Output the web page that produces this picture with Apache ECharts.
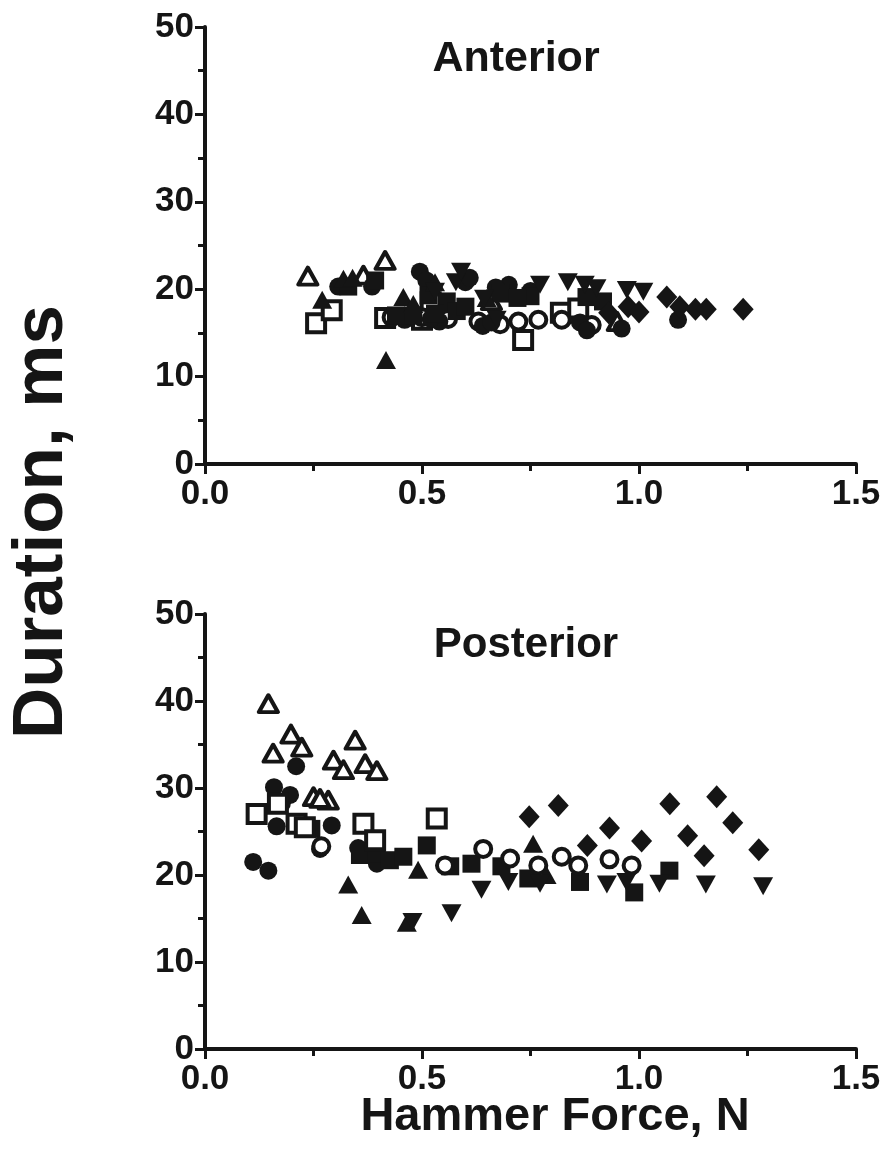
<!DOCTYPE html>
<html>
<head>
<meta charset="utf-8">
<script src="https://cdn.jsdelivr.net/npm/echarts@6/dist/echarts.min.js"></script>
<style>
html,body{margin:0;padding:0;background:#fff;}
#c{width:891px;height:1163px;}
</style>
</head>
<body>
<div id="c"></div>
<script>
// ---------- DATA ----------
const xTicks = [0.0, 0.5, 1.0, 1.5];
const yTicks = [0, 10, 20, 30, 40, 50];
const panelTitles = ["Anterior", "Posterior"];
const xTitle = "Hammer Force, N";
const yTitle = "Duration, ms";

// Anterior panel: [force N, duration ms]
const antFilledCircle = [[0.307,20.3],[0.385,20.3],[0.495,22.0],[0.51,21.0],[0.60,20.8],[0.61,21.3],[0.70,20.5],[0.75,19.8],[0.864,16.2],[0.96,15.5],[1.09,16.5],[0.46,16.5],[0.54,16.3],[0.64,15.8],[0.88,15.3],[0.66,16.2],[0.47,17.0],[0.52,16.6],[0.67,20.2]];
const antOpenCircle = [[0.722,16.3],[0.768,16.5],[0.822,16.5],[0.891,15.9],[0.50,16.8],[0.56,16.6],[0.63,16.3],[0.68,16.0],[0.43,16.8]];
const antFilledSquare = [[0.392,21.0],[0.515,19.3],[0.557,18.6],[0.879,19.1],[0.917,18.6],[0.33,20.3],[0.68,19.5],[0.75,19.2],[0.48,17.0],[0.58,17.5],[0.44,17.0],[0.60,18.0],[0.72,19.0],[0.53,17.2]];
const antOpenSquare = [[0.256,16.1],[0.292,17.6],[0.415,16.7],[0.733,14.2],[0.52,18.5],[0.82,17.3],[0.86,17.8],[0.50,16.5]];
const antFilledTriangle = [[0.319,21.2],[0.34,21.3],[0.27,18.8],[0.457,19.1],[0.417,11.9],[0.649,19.0],[0.53,20.8],[0.48,18.3]];
const antOpenTriangle = [[0.237,21.5],[0.365,21.6],[0.415,23.3],[0.66,18.7],[0.95,16.3]];
const antDownTriangle = [[0.578,20.8],[0.772,20.5],[0.875,20.5],[0.902,20.1],[0.972,19.9],[1.01,19.7],[0.643,18.9],[0.53,19.7],[0.672,16.5],[0.836,20.8],[0.59,22.0]];
const antDiamond = [[0.975,18.0],[1.00,17.4],[1.064,19.1],[1.094,18.0],[1.13,17.7],[1.155,17.7],[1.24,17.7],[0.93,17.3]];

// Posterior panel
const posFilledCircle = [[0.21,32.5],[0.159,30.1],[0.196,29.2],[0.177,28.2],[0.165,25.6],[0.292,25.7],[0.265,23.0],[0.111,21.5],[0.146,20.5],[0.353,23.1],[0.396,21.3]];
const posOpenCircle = [[0.641,23.0],[0.703,21.9],[0.768,21.1],[0.822,22.1],[0.86,21.1],[0.932,21.8],[0.983,21.1],[0.553,21.1],[0.268,23.3]];
const posFilledSquare = [[0.245,25.3],[0.357,22.3],[0.396,22.5],[0.426,21.7],[0.457,22.1],[0.511,23.4],[0.565,21.0],[0.614,21.3],[0.683,21.0],[0.745,19.6],[0.864,19.2],[0.989,18.0],[1.07,20.5]];
const posOpenSquare = [[0.119,27.0],[0.211,25.9],[0.23,25.5],[0.365,25.9],[0.392,24.0],[0.534,26.5],[0.168,28.2]];
const posFilledTriangle = [[0.33,18.9],[0.361,15.4],[0.491,20.6],[0.787,20.0],[0.756,23.6],[0.465,14.5]];
const posOpenTriangle = [[0.146,39.7],[0.198,36.2],[0.223,34.7],[0.157,34.0],[0.346,35.5],[0.296,33.2],[0.319,32.1],[0.369,32.8],[0.396,32.0],[0.25,29.0],[0.284,28.6],[0.265,28.8]];
const posDownTriangle = [[0.637,18.3],[0.699,19.2],[0.772,19.0],[0.926,18.9],[0.568,15.6],[0.971,19.2],[1.047,19.0],[1.154,18.9],[1.286,18.7],[0.478,14.6]];
const posDiamond = [[0.747,26.7],[0.814,28.0],[0.932,25.4],[0.881,23.4],[1.006,23.9],[1.071,28.2],[1.179,29.0],[1.216,26.0],[1.112,24.5],[1.15,22.2],[1.276,22.9]];

// ---------- CHART ----------
const INK = '#151515';
const FONT = '"Liberation Sans", Arial, sans-serif';
const chart = echarts.init(document.getElementById('c'), null, {renderer:'canvas'});

function styleFor(kind){
  switch(kind){
    case 'fc': return {symbol:'circle', symbolSize:18, itemStyle:{color:INK, opacity:1}};
    case 'oc': return {symbol:'circle', symbolSize:16, itemStyle:{color:'#fff', borderColor:INK, borderWidth:4, opacity:1}};
    case 'fs': return {symbol:'rect', symbolSize:18, itemStyle:{color:INK, opacity:1}};
    case 'os': return {symbol:'rect', symbolSize:18, itemStyle:{color:'#fff', borderColor:INK, borderWidth:4, opacity:1}};
    case 'ft': return {symbol:'triangle', symbolSize:[20,18], itemStyle:{color:INK, opacity:1}};
    case 'ot': return {symbol:'triangle', symbolSize:[19,17], itemStyle:{color:'#fff', borderColor:INK, borderWidth:4, borderJoin:'round', opacity:1}};
    case 'dt': return {symbol:'triangle', symbolSize:[20,18], symbolRotate:180, itemStyle:{color:INK, opacity:1}};
    case 'dm': return {symbol:'diamond', symbolSize:[21,23], itemStyle:{color:INK, opacity:1}};
  }
}
function mk(name, data, kind, idx){
  return Object.assign({name:name, type:'scatter', data:data, xAxisIndex:idx, yAxisIndex:idx, silent:true, animation:false}, styleFor(kind));
}

const axisCommonX = (idx) => ({
  type:'value', gridIndex:idx, min:0, max:1.5, interval:0.5,
  axisLine:{show:true, onZero:false, lineStyle:{color:INK, width:4}},
  axisTick:{show:true, length:10, lineStyle:{color:INK, width:3}},
  minorTick:{show:true, splitNumber:2, length:7, lineStyle:{color:INK, width:3}},
  splitLine:{show:false},
  axisLabel:{color:INK, fontSize:35, fontWeight:'bold', fontFamily:FONT, margin:13,
    formatter:v => xTicks.indexOf(v) >= 0 ? v.toFixed(1) : ''}
});
const axisCommonY = (idx) => ({
  type:'value', gridIndex:idx, min:0, max:50, interval:10,
  axisLine:{show:true, lineStyle:{color:INK, width:4}},
  axisTick:{show:true, length:10, lineStyle:{color:INK, width:3}},
  minorTick:{show:true, splitNumber:2, length:7, lineStyle:{color:INK, width:3}},
  splitLine:{show:false},
  axisLabel:{color:INK, fontSize:35, fontWeight:'bold', fontFamily:FONT, margin:11,
    formatter:v => yTicks.indexOf(v) >= 0 ? String(v) : ''}
});

const option = {
  backgroundColor:'#fff',
  animation:false,
  title:[
    {text:panelTitles[0], left:511, top:33, textAlign:'center', textStyle:{color:INK, fontSize:43, fontWeight:'bold', fontFamily:FONT}},
    {text:panelTitles[1], left:521, top:619, textAlign:'center', textStyle:{color:INK, fontSize:42, fontWeight:'bold', fontFamily:FONT}}
  ],
  grid:[
    {left:205, top:27, width:651, height:437},
    {left:205, top:614, width:651, height:435}
  ],
  xAxis:[axisCommonX(0), axisCommonX(1)],
  yAxis:[axisCommonY(0), axisCommonY(1)],
  graphic:[
    {type:'text', x:42, y:522, rotation:Math.PI/2,
      style:{text:yTitle, fill:INK, font:'bold 71px ' + FONT, textAlign:'center', textVerticalAlign:'middle'}},
    {type:'text', x:555, y:1117,
      style:{text:xTitle, fill:INK, font:'bold 47px ' + FONT, textAlign:'center', textVerticalAlign:'middle'}}
  ],
  series:[
    mk('A open square', antOpenSquare, 'os', 0),
    mk('A open circle', antOpenCircle, 'oc', 0),
    mk('A open triangle', antOpenTriangle, 'ot', 0),
    mk('A filled circle', antFilledCircle, 'fc', 0),
    mk('A filled square', antFilledSquare, 'fs', 0),
    mk('A filled triangle', antFilledTriangle, 'ft', 0),
    mk('A down triangle', antDownTriangle, 'dt', 0),
    mk('A diamond', antDiamond, 'dm', 0),
    mk('P filled circle', posFilledCircle, 'fc', 1),
    mk('P filled square', posFilledSquare, 'fs', 1),
    mk('P open square', posOpenSquare, 'os', 1),
    mk('P open circle', posOpenCircle, 'oc', 1),
    mk('P open triangle', posOpenTriangle, 'ot', 1),
    mk('P filled triangle', posFilledTriangle, 'ft', 1),
    mk('P down triangle', posDownTriangle, 'dt', 1),
    mk('P diamond', posDiamond, 'dm', 1)
  ]
};
chart.setOption(option);
</script>
</body>
</html>
